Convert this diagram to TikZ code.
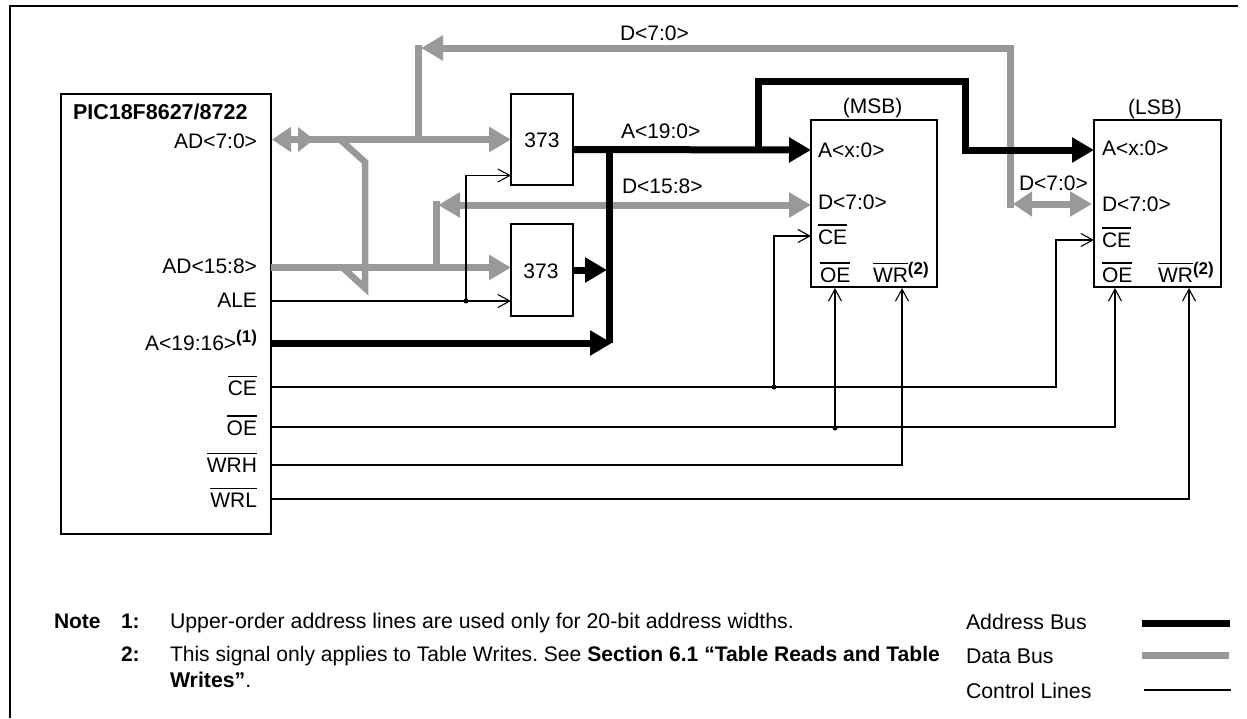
\documentclass[tikz,border=0pt]{standalone}
\usepackage{fontspec}
\setmainfont{Liberation Sans}
\usetikzlibrary{arrows.meta}
\definecolor{busgrey}{HTML}{999999}
\newcommand{\ovl}[1]{\leavevmode\vbox{\hrule height 1.4pt\kern 3.6pt\hbox{#1}}}
\newcommand{\sups}[1]{\raisebox{7.5pt}{\bfseries\fontsize{17}{20}\selectfont(#1)}}
\frenchspacing
\tikzset{
  x=1pt,y=-1pt,
  every node/.style={inner sep=0pt,outer sep=0pt,font=\fontsize{21}{24}\selectfont},
  boxn/.style={draw,line width=1.5pt,anchor=north west},
  sig/.style={anchor=base east},
  lab/.style={anchor=base},
  tw/.style={anchor=base west},
  notes/.style={anchor=base west,font=\fontsize{21.3}{24}\selectfont},
  noteb/.style={anchor=base west,font=\bfseries\fontsize{21}{24}\selectfont},
  gbus/.style={draw=busgrey,line width=7pt,line cap=butt,line join=miter},
  kbus/.style={draw=black,line width=7pt,line cap=butt,line join=miter},
  ctl/.style={draw=black,line width=1.5pt,-{Straight Barb[length=12pt,width=13pt,line width=1.1pt]}},
  ctln/.style={draw=black,line width=1.8pt},
  gtip/.style={-{Triangle[length=22pt,width=24pt,fill=busgrey]}},
  ktip/.style={-{Triangle[length=22pt,width=24pt]}},
  dot/.style={circle,fill=black,minimum size=5pt}
}
\begin{document}
\begin{tikzpicture}
\useasboundingbox (0,0) rectangle (1247,718);
\draw[line width=1.5pt] (10,718) -- (10,6) -- (1238,6);
% boxes
\node[boxn,minimum width=210pt,minimum height=440pt] (pic) at (61,94) {};
\node[boxn,minimum width=62pt,minimum height=91pt] (la) at (511,94) {};
\node[lab] at (542,147) {373};
\node[boxn,minimum width=62pt,minimum height=92pt] (lb) at (511,224) {};
\node[lab] at (541,278) {373};
\node[boxn,minimum width=126pt,minimum height=167pt] (msb) at (811,120) {};
\node[boxn,minimum width=127pt,minimum height=167pt] (lsb) at (1094,120) {};
% coordinates
\coordinate (p1) at (272,139.5);
\coordinate (p1b) at (298,139.5);
\coordinate (la1) at (511,139.5);
\coordinate (j1) at (418,143);
\coordinate (top1) at (418,44.5);
\coordinate (toph) at (421,48);
\coordinate (topr) at (1010,48);
\coordinate (dr) at (1010,208);
\coordinate (p2) at (271,267.5);
\coordinate (lb1) at (511,267.5);
\coordinate (j2) at (436,267.5);
\coordinate (d2) at (436,201);
\coordinate (d2h) at (438,205);
\coordinate (msbD) at (811,205);
\coordinate (msbA) at (811,150);
\coordinate (lsbA) at (1094,150);
\coordinate (lsbD) at (1092,204);
\coordinate (lsbDl) at (1013,204);
\coordinate (a0) at (573,149.5);
\coordinate (av) at (758,149.5);
\coordinate (q1) at (340,139.5);
\coordinate (q2) at (365,162);
\coordinate (q3) at (365,288);
\coordinate (q4) at (343,268);
% grey buses
\draw[gbus,{Triangle[length=19pt,width=24pt,fill=busgrey]}-{Triangle[length=22pt,width=24pt,fill=busgrey]}] (p1) -- (la1);
\draw[gbus,-{Triangle[length=16pt,width=24pt,fill=busgrey]}] (p1b) -- (314,139.5);
\draw[gbus] (j1) -- (top1);
\draw[gbus,{Triangle[length=22pt,width=24pt,fill=busgrey]}-] (toph) -- (topr) -- (dr);
\draw[gbus,line width=6.5pt] (q1) -- (q2) -- (q3) -- (q4);
\draw[gbus,gtip] (p2) -- (lb1);
\draw[gbus] (j2) -- (d2);
\draw[gbus,{Triangle[length=22pt,width=24pt,fill=busgrey]}-{Triangle[length=22pt,width=24pt,fill=busgrey]}] (d2h) -- (msbD);
\draw[gbus,{Triangle[length=19pt,width=24pt,fill=busgrey]}-{Triangle[length=22pt,width=24pt,fill=busgrey]}] (lsbDl) -- (lsbD);
% black buses
\draw[kbus,ktip] (a0) -- (msbA);
\draw[kbus] (609,149) -- (609,343);
\draw[kbus,ktip] (271,343) -- (612,343);
\draw[kbus,ktip] (lb.east |- 0,270) -- (607,270);
\draw[kbus,ktip] (av) -- (758,81.5) -- (965,81.5) -- (965,150) -- (lsbA);
% control
\coordinate (ale) at (271,301);
\coordinate (jale) at (466,301);
\draw[ctl] (ale) -- (511,301);
\draw[ctl] (jale) -- (466,175.5) -- (511,175.5);
\node[dot] at (jale) {};
\draw[ctl] (271,387) -- (1056,387) -- (1056,240) -- (1094,240);
\coordinate (jce) at (774,387);
\draw[ctl] (jce) -- (774,236) -- (811,236);
\node[dot] at (jce) {};
\draw[ctl] (271,427) -- (1115,427) -- (1115,288);
\coordinate (joe) at (835,427);
\draw[ctl] (joe) -- (835,288);
\node[dot] at (835,428) {};
\draw[ctl] (271,465) -- (902,465) -- (902,288);
\draw[ctl] (271,499) -- (1189,499) -- (1189,288);
% pic labels
\node[tw,font=\bfseries\fontsize{21.5}{24}\selectfont] at (73,119) {PIC18F8627/8722};
\node[sig] at (257,148) {AD<7:0>};
\node[sig] at (257,273.5) {AD<15:8>};
\node[sig] at (257,307) {ALE};
\node[sig] at (257,350) {A<19:16>\sups{1}};
\node[sig] at (257,395.5) {\ovl{CE}};
\node[sig] at (257,435) {\ovl{OE}};
\node[sig] at (257,472) {\ovl{WRH}};
\node[sig] at (257,507) {\ovl{WRL}};
% bus labels
\node[tw] at (620,40) {D<7:0>};
\node[tw] at (621,138) {A<19:0>};
\node[tw] at (622,193) {D<15:8>};
\node[tw] at (1019,190.5) {D<7:0>};
\node[lab] at (872.5,113) {(MSB)};
\node[lab] at (1155,114.5) {(LSB)};
% chip labels
\node[tw] at (818,157) {A<x:0>};
\node[tw] at (818,209) {D<7:0>};
\node[tw] at (818,244) {\ovl{CE}};
\node[tw] at (820,282) {\ovl{OE}};
\node[tw] at (873,282) {\ovl{WR}\sups{2}};
\node[tw] at (1102,155) {A<x:0>};
\node[tw] at (1102,211) {D<7:0>};
\node[tw] at (1102,247) {\ovl{CE}};
\node[tw] at (1102,282) {\ovl{OE}};
\node[tw] at (1158,282) {\ovl{WR}\sups{2}};
% notes
\node[noteb] at (54,628) {Note};
\node[noteb] at (121,628) {1:};
\node[notes] at (170,628) {Upper-order address lines are used only for 20-bit address widths.};
\node[noteb] at (121,661) {2:};
\node[notes,font=\fontsize{21.05}{24}\selectfont] at (170,661) {This signal only applies to Table Writes. See \textbf{Section 6.1 “Table Reads and Table}};
\node[notes] at (170,687) {\textbf{Writes”}.};
% legend
\node[notes] at (966,629.5) {Address Bus};
\node[notes] at (966,663) {Data Bus};
\node[notes] at (966,698) {Control Lines};
\coordinate (l1a) at (1142,623.3); \coordinate (l1b) at (1230,623.3);
\coordinate (l2a) at (1142,655.3); \coordinate (l2b) at (1229,655.3);
\coordinate (l3a) at (1144,690); \coordinate (l3b) at (1231,690);
\draw[kbus] (l1a) -- (l1b);
\draw[gbus] (l2a) -- (l2b);
\draw[ctln] (l3a) -- (l3b);
\end{tikzpicture}
\end{document}
